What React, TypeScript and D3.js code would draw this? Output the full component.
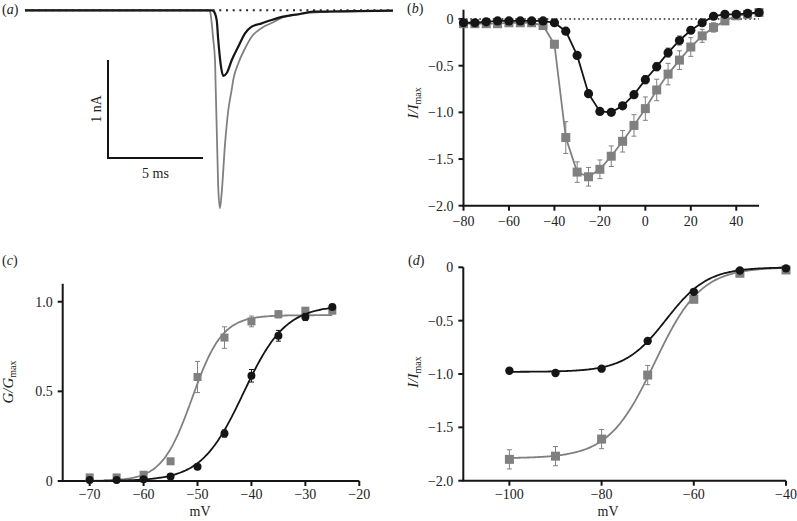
import React from "react";
import * as d3 from "d3";

// ---------- Panel (a): current traces (time in ms, current in nA) ----------
const traceBlackT = [0, 9.83, 9.91, 10.09, 10.17, 10.32, 10.44, 10.62, 10.88, 11.23, 11.58, 11.93, 12.46, 12.98, 13.59, 14.47, 15.16, 16.21, 19.37];
const traceBlackI = [0, 0, -0.005, -0.1, -0.3, -0.58, -0.67, -0.64, -0.51, -0.37, -0.235, -0.167, -0.133, -0.099, -0.065, -0.038, -0.014, -0.012, -0.004];
const traceGrayT = [0, 9.68, 9.74, 9.91, 10.0, 10.04, 10.09, 10.17, 10.26, 10.35, 10.53, 10.7, 10.88, 10.96, 11.23, 11.58, 11.93, 12.46, 12.98, 13.59, 14.47, 15.35, 19.37];
const traceGrayI = [0, 0, -0.014, -0.3, -0.51, -0.81, -1.19, -1.8, -2.02, -1.87, -1.36, -1.02, -0.81, -0.71, -0.54, -0.39, -0.27, -0.18, -0.13, -0.071, -0.038, -0.02, -0.004];
const scaleBarTime = 5; // ms
const scaleBarCurrent = 1; // nA

// ---------- Panel (b): I-V ----------
const voltB = d3.range(-80, 51, 5);
const blackB = [-0.04, -0.04, -0.03, -0.02, -0.02, -0.02, -0.02, -0.02, -0.04, -0.13, -0.39, -0.8, -0.99, -1.0, -0.93, -0.81, -0.65, -0.51, -0.36, -0.23, -0.12, -0.04, 0.03, 0.05, 0.05, 0.06, 0.07];
const blackBErr = [0.01, 0.01, 0.01, 0.01, 0.01, 0.01, 0.01, 0.01, 0.01, 0.01, 0.02, 0.02, 0.02, 0.02, 0.02, 0.03, 0.045, 0.045, 0.05, 0.05, 0.035, 0.03, 0.02, 0.01, 0.01, 0.01, 0.01];
const grayB = [-0.05, -0.05, -0.05, -0.05, -0.04, -0.04, -0.04, -0.07, -0.27, -1.27, -1.64, -1.69, -1.61, -1.47, -1.31, -1.14, -0.96, -0.76, -0.59, -0.44, -0.3, -0.18, -0.09, -0.02, 0.035, 0.05, 0.07];
const grayBErr = [0.01, 0.01, 0.01, 0.01, 0.01, 0.01, 0.01, 0.02, 0.03, 0.17, 0.11, 0.1, 0.1, 0.11, 0.115, 0.115, 0.125, 0.115, 0.115, 0.1, 0.1, 0.07, 0.05, 0.03, 0.02, 0.02, 0.02];
const ticksBX = [-80, -60, -40, -20, 0, 20, 40];
const ticksBY = [0, -0.5, -1.0, -1.5, -2.0];

// ---------- Panel (c): activation ----------
const voltC = [-70, -65, -60, -55, -50, -45, -40, -35, -30, -25];
const grayC = [0.02, 0.02, 0.035, 0.11, 0.58, 0.8, 0.89, 0.93, 0.95, 0.95];
const grayCErr = [0.01, 0.01, 0.01, 0.01, 0.087, 0.06, 0.03, 0.02, 0.015, 0.01];
const blackC = [0.005, 0.005, 0.01, 0.025, 0.08, 0.265, 0.587, 0.81, 0.915, 0.97];
const blackCErr = [0, 0, 0, 0.005, 0.01, 0.02, 0.035, 0.03, 0.02, 0.01];
const fitGrayC = [0.925, -51, 2.8]; // amplitude, V1/2, slope
const fitBlackC = [0.98, -41.5, 3.9];
const ticksCX = [-70, -60, -50, -40, -30, -20];
const ticksCY = [0, 0.5, 1.0];

// ---------- Panel (d): inactivation ----------
const voltD = [-100, -90, -80, -70, -60, -50, -40];
const blackD = [-0.97, -0.99, -0.95, -0.69, -0.23, -0.03, -0.01];
const blackDErr = [0.01, 0.01, 0.01, 0.01, 0.01, 0.01, 0.01];
const grayD = [-1.8, -1.77, -1.61, -1.01, -0.3, -0.056, -0.025];
const grayDErr = [0.09, 0.09, 0.09, 0.09, 0.03, 0.02, 0.01];
const fitBlackD = [-0.98, -66, 4.5];
const fitGrayD = [-1.79, -68.5, 5];
const ticksDX = [-100, -80, -60, -40];
const ticksDY = [0, -0.5, -1.0, -1.5, -2.0];

const BLACK = "#151515";
const GRAY = "#808080";
const FONT = "'Liberation Serif', 'Times New Roman', serif";

const fmt = (v: number) => String(v).replace("-", "\u2212");
const fmtY = (v: number) => (v === 0 ? "0" : (v < 0 ? "\u2212" : "") + Math.abs(v).toFixed(1));

function Axes({ x, y, xTicks, yTicks, xLabelY, yFmt }: any) {
  const [x0, x1] = x.range();
  const [y0, y1] = y.range();
  return (
    <g>
      <line x1={x0} x2={x0} y1={y0} y2={y1} stroke={BLACK} strokeWidth={2} />
      <line x1={x0 - 1} x2={x1} y1={y0} y2={y0} stroke={BLACK} strokeWidth={2} />
      {yTicks.map((t: number) => (
        <g key={"y" + t}>
          <line x1={x0 - 5} x2={x0} y1={y(t)} y2={y(t)} stroke={BLACK} strokeWidth={2} />
          <text x={x0 - 10} y={y(t)} dy="0.35em" textAnchor="end" fontSize={14} fontFamily={FONT} fill="#222">
            {yFmt(t)}
          </text>
        </g>
      ))}
      {xTicks.map((t: number) => (
        <g key={"x" + t}>
          <line x1={x(t)} x2={x(t)} y1={y0} y2={y0 + 5} stroke={BLACK} strokeWidth={2} />
          <text x={x(t)} y={xLabelY} textAnchor="middle" fontSize={14} fontFamily={FONT} fill="#222">
            {fmt(t)}
          </text>
        </g>
      ))}
    </g>
  );
}

function ErrBars({ xs, ys, es, x, y, color }: any) {
  return (
    <g stroke={color} strokeWidth={1}>
      {xs.map((v: number, i: number) => {
        const cx = x(v);
        const top = y(ys[i] + es[i]);
        const bot = y(ys[i] - es[i]);
        return (
          <g key={i}>
            <line x1={cx} x2={cx} y1={top} y2={bot} />
            <line x1={cx - 2.5} x2={cx + 2.5} y1={top} y2={top} />
            <line x1={cx - 2.5} x2={cx + 2.5} y1={bot} y2={bot} />
          </g>
        );
      })}
    </g>
  );
}

function Squares({ xs, ys, x, y, size, color }: any) {
  return (
    <g fill={color}>
      {xs.map((v: number, i: number) => (
        <rect key={i} x={x(v) - size / 2} y={y(ys[i]) - size / 2} width={size} height={size} />
      ))}
    </g>
  );
}

function Circles({ xs, ys, x, y, r, color }: any) {
  return (
    <g fill={color}>
      {xs.map((v: number, i: number) => (
        <circle key={i} cx={x(v)} cy={y(ys[i])} r={r} />
      ))}
    </g>
  );
}

function YLabel({ x, y, main }: any) {
  return (
    <text transform={`translate(${x},${y}) rotate(-90)`} textAnchor="middle" fontSize={15} fontFamily={FONT} fill="#222">
      <tspan fontStyle="italic">{main}</tspan>
      <tspan fontSize={10} dy={3}>max</tspan>
    </text>
  );
}

function PanelLabel({ x, y, letter }: any) {
  return (
    <text x={x} y={y} fontSize={14} fontFamily={FONT} fill="#222">
      (<tspan fontStyle="italic">{letter}</tspan>)
    </text>
  );
}

const boltzAct = (p: number[]) => (v: number) => p[0] / (1 + Math.exp((p[1] - v) / p[2]));
const boltzInact = (p: number[]) => (v: number) => p[0] / (1 + Math.exp((v - p[1]) / p[2]));

export default function App() {
  // Panel (a)
  const xa = d3.scaleLinear().domain([0, 19.37]).range([25, 393]);
  const ya = d3.scaleLinear().domain([0, -1]).range([10.3, 108.3]);
  const traceLine = d3
    .line<[number, number]>()
    .x((d) => xa(d[0]))
    .y((d) => ya(d[1]))
    .curve(d3.curveMonotoneX);
  const blackTrace = traceBlackT.map((t, i) => [t, traceBlackI[i]] as [number, number]);
  const grayTrace = traceGrayT.map((t, i) => [t, traceGrayI[i]] as [number, number]);
  const sbX = 108;
  const sbY = 158;
  const sbLenX = xa(scaleBarTime) - xa(0);
  const sbLenY = ya(-scaleBarCurrent) - ya(0);

  // Panel (b)
  const xb = d3.scaleLinear().domain([-80, 50]).range([463.5, 759]);
  const yb = d3.scaleLinear().domain([-2, 0.1]).range([205.7, 9.7]);
  const lineB = d3
    .line<number>()
    .x((_, i) => xb(voltB[i]))
    .y((d) => yb(d));

  // Panel (c)
  const xc = d3.scaleLinear().domain([-75, -20]).range([62.7, 359.3]);
  const yc = d3.scaleLinear().domain([0, 1.1]).range([481, 283.8]);
  const vC = d3.range(-70, -25 + 0.001, 0.25);
  const fitLineC = (f: (v: number) => number) =>
    d3
      .line<number>()
      .x((v) => xc(v))
      .y((v) => yc(f(v)))(vC);

  // Panel (d)
  const xd = d3.scaleLinear().domain([-110, -40]).range([463.3, 786]);
  const yd = d3.scaleLinear().domain([-2, 0]).range([480.7, 267.3]);
  const vD = d3.range(-100, -40 + 0.001, 0.25);
  const fitLineD = (f: (v: number) => number) =>
    d3
      .line<number>()
      .x((v) => xd(v))
      .y((v) => yd(f(v)))(vD);

  return (
    <svg width={797} height={521} style={{ position: "absolute", left: 0, top: 0, background: "#fff" }}>
      {/* Panel (a) */}
      <PanelLabel x={2} y={14} letter="a" />
      <path d={traceLine(grayTrace) || ""} fill="none" stroke={GRAY} strokeWidth={1.8} />
      <path d={traceLine(blackTrace) || ""} fill="none" stroke={BLACK} strokeWidth={2.2} />
      <line x1={xa(0)} x2={xa(19.37)} y1={ya(0)} y2={ya(0)} stroke="#222" strokeWidth={2} strokeDasharray="2 4.7" />
      <line x1={sbX} x2={sbX} y1={sbY - sbLenY} y2={sbY} stroke={BLACK} strokeWidth={2} />
      <line x1={sbX - 1} x2={sbX + sbLenX} y1={sbY} y2={sbY} stroke={BLACK} strokeWidth={2} />
      <text transform={`translate(101,${sbY - sbLenY / 2}) rotate(-90)`} textAnchor="middle" fontSize={14} fontFamily={FONT} fill="#222">
        1 nA
      </text>
      <text x={sbX + sbLenX / 2} y={178} textAnchor="middle" fontSize={14} fontFamily={FONT} fill="#222">
        5 ms
      </text>

      {/* Panel (b) */}
      <PanelLabel x={407} y={13} letter="b" />
      <Axes x={xb} y={yb} xTicks={ticksBX} yTicks={ticksBY} xLabelY={226} yFmt={fmtY} />
      <line x1={xb(-79)} x2={xb(50)} y1={yb(0)} y2={yb(0)} stroke="#222" strokeWidth={1.6} strokeDasharray="1.6 2.9" />
      <YLabel x={418} y={103} main="I/I" />
      <ErrBars xs={voltB} ys={grayB} es={grayBErr} x={xb} y={yb} color={GRAY} />
      <path d={lineB(grayB) || ""} fill="none" stroke={GRAY} strokeWidth={1.8} />
      <Squares xs={voltB} ys={grayB} x={xb} y={yb} size={9} color={GRAY} />
      <ErrBars xs={voltB} ys={blackB} es={blackBErr} x={xb} y={yb} color={GRAY} />
      <path d={lineB(blackB) || ""} fill="none" stroke={BLACK} strokeWidth={1.8} />
      <Circles xs={voltB} ys={blackB} x={xb} y={yb} r={4.6} color={BLACK} />

      {/* Panel (c) */}
      <PanelLabel x={2} y={265} letter="c" />
      <Axes x={xc} y={yc} xTicks={ticksCX} yTicks={ticksCY} xLabelY={499} yFmt={fmtY} />
      <YLabel x={13} y={382} main="G/G" />
      <text x={200} y={516} textAnchor="middle" fontSize={14} fontFamily={FONT} fill="#222">mV</text>
      <path d={fitLineC(boltzAct(fitGrayC)) || ""} fill="none" stroke={GRAY} strokeWidth={1.8} />
      <ErrBars xs={voltC} ys={grayC} es={grayCErr} x={xc} y={yc} color={GRAY} />
      <Squares xs={voltC} ys={grayC} x={xc} y={yc} size={8} color={GRAY} />
      <path d={fitLineC(boltzAct(fitBlackC)) || ""} fill="none" stroke={BLACK} strokeWidth={1.8} />
      <ErrBars xs={voltC} ys={blackC} es={blackCErr} x={xc} y={yc} color={BLACK} />
      <Circles xs={voltC} ys={blackC} x={xc} y={yc} r={4} color={BLACK} />

      {/* Panel (d) */}
      <PanelLabel x={408} y={265} letter="d" />
      <Axes x={xd} y={yd} xTicks={ticksDX} yTicks={ticksDY} xLabelY={499} yFmt={fmtY} />
      <YLabel x={418} y={372} main="I/I" />
      <text x={608} y={516} textAnchor="middle" fontSize={14} fontFamily={FONT} fill="#222">mV</text>
      <path d={fitLineD(boltzInact(fitGrayD)) || ""} fill="none" stroke={GRAY} strokeWidth={1.8} />
      <ErrBars xs={voltD} ys={grayD} es={grayDErr} x={xd} y={yd} color={GRAY} />
      <Squares xs={voltD} ys={grayD} x={xd} y={yd} size={9} color={GRAY} />
      <path d={fitLineD(boltzInact(fitBlackD)) || ""} fill="none" stroke={BLACK} strokeWidth={1.8} />
      <ErrBars xs={voltD} ys={blackD} es={blackDErr} x={xd} y={yd} color={BLACK} />
      <Circles xs={voltD} ys={blackD} x={xd} y={yd} r={4.2} color={BLACK} />
    </svg>
  );
}
